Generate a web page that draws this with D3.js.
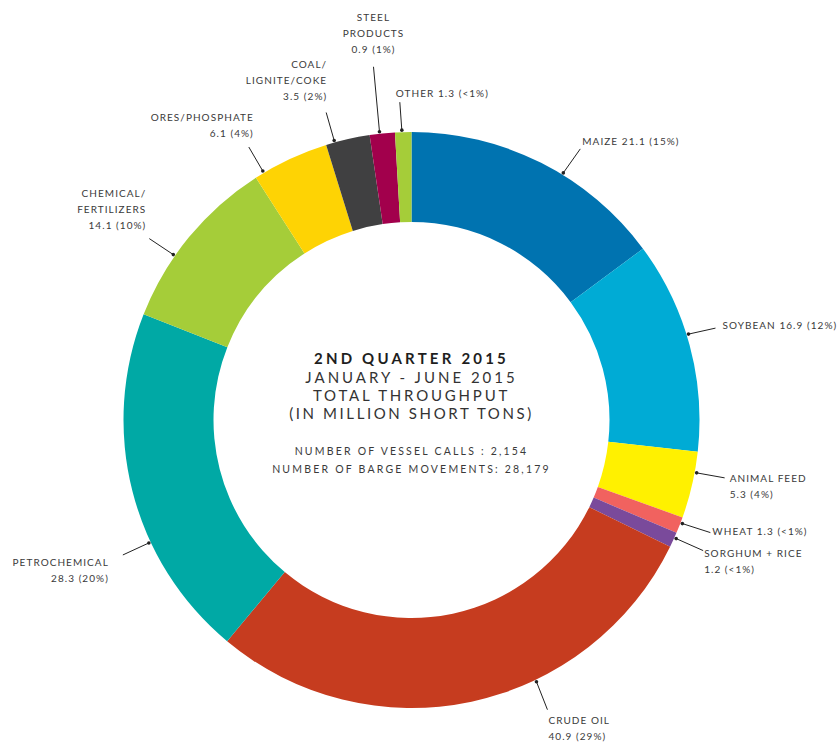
<!DOCTYPE html>
<html>
<head>
<meta charset="utf-8">
<script src="https://cdn.jsdelivr.net/npm/d3@7"></script>
<style>
  body { margin: 0; background: #fff; }
  svg text { font-family: Lato, "Open Sans", sans-serif; fill: #3a3a3a; letter-spacing: 1.05px; }
</style>
</head>
<body>
<div id="grafico-rosca"><svg width="840" height="744"></svg></div>
<script>
// dados
const categorias = ['MAIZE', 'SOYBEAN', 'ANIMAL FEED', 'WHEAT', 'SORGHUM + RICE', 'CRUDE OIL',
  'PETROCHEMICAL', 'CHEMICAL/FERTILIZERS', 'ORES/PHOSPHATE', 'COAL/LIGNITE/COKE', 'STEEL PRODUCTS', 'OTHER']
const valores = [21.1, 16.9, 5.3, 1.3, 1.2, 40.9, 28.3, 14.1, 6.1, 3.5, 0.9, 1.3]
// tamanho das fatias como aparecem no desenho (steel aparece maior que o valor)
const tamanhoFatia = [21.1, 16.9, 5.3, 1.3, 1.2, 40.9, 28.3, 14.1, 6.1, 3.5, 2.0, 1.3]
const percentuais = ['15%', '12%', '4%', '<1%', '<1%', '29%', '20%', '10%', '4%', '2%', '1%', '<1%']
const cores = ['#0073b0', '#00abd5', '#fff100', '#f1625f', '#7a4a9b', '#c63c1f',
  '#00a9a5', '#a5cd39', '#fed304', '#404041', '#a2004c', '#a5cd39']

const titulo = ['2ND QUARTER 2015', 'JANUARY - JUNE 2015', 'TOTAL THROUGHPUT', '(IN MILLION SHORT TONS)']
const rodape = ['NUMBER OF VESSEL CALLS : 2,154', 'NUMBER OF BARGE MOVEMENTS: 28,179']

/*posicao dos rotulos: t = fração ao longo da fatia, lx/ly = fim da linha, tx/ty = texto*/
const rotulos = [
  { linhas: (v, p) => [`MAIZE ${v} (${p})`], t: 0.59, lx: 17, ly: -24, anchor: 'start', tx: 2, ty: -7 },
  { linhas: (v, p) => [`SOYBEAN ${v} (${p})`], t: 0.45, lx: 27, ly: -6, anchor: 'start', tx: 7, ty: -3 },
  { linhas: (v, p) => ['ANIMAL FEED', `${v} (${p})`], t: 0.31, lx: 28, ly: 5, anchor: 'start', tx: 5, ty: 1 },
  { linhas: (v, p) => [`WHEAT ${v} (${p})`], t: 0.35, lx: 28, ly: 9, anchor: 'start', tx: 2, ty: -1 },
  { linhas: (v, p) => ['SORGHUM + RICE', `${v} (${p})`], t: 0.35, lx: 27, ly: 12, anchor: 'start', tx: 1, ty: 3 },
  { linhas: (v, p) => ['CRUDE OIL', `${v} (${p})`], t: 0.37, lx: 11, ly: 28, anchor: 'start', tx: 1, ty: 11 },
  { linhas: (v, p) => ['PETROCHEMICAL', `${v} (${p})`], t: 0.35, lx: -26, ly: 12, anchor: 'end', tx: -14, ty: 8 },
  { linhas: (v, p) => ['CHEMICAL/', 'FERTILIZERS', `${v} (${p})`], t: 0.37, lx: -24, ly: -16, anchor: 'end', tx: -3, ty: -45 },
  { linhas: (v, p) => ['ORES/PHOSPHATE', `${v} (${p})`], t: 0.12, lx: -14, ly: -24, anchor: 'end', tx: 5, ty: -30 },
  { linhas: (v, p) => ['COAL/', 'LIGNITE/COKE', `${v} (${p})`], t: 0.2, lx: -8, ly: -28, anchor: 'end', tx: 1, ty: -48 },
  { linhas: (v, p) => ['STEEL', 'PRODUCTS', `${v} (${p})`], t: 0.4, lx: -6, ly: -65, anchor: 'middle', tx: 0, ty: -49 },
  { linhas: (v, p) => [`OTHER ${v} (${p})`], t: 0.42, lx: -2, ly: -28, anchor: 'start', tx: -4, ty: -9 }
]

function exibir_grafico_rosca() {
  const dados = categorias.map((c, i) => ({
    name: c, valor: valores[i], fatia: tamanhoFatia[i], pct: percentuais[i], cor: cores[i], rot: rotulos[i]
  }))

  const svg = d3.select('#grafico-rosca svg')
  const cx = 411.5, cy = 420
  const raioExt = 288, raioInt = 198

  const chart = svg.append('g')
    .attr('transform', `translate(${cx}, ${cy})`)

  const pie = d3.pie()
    .sort(null)
    .value((d) => d.fatia)

  const arc = d3.arc()
    .innerRadius(raioInt)
    .outerRadius(raioExt)

  const fatias = pie(dados)

  chart.selectAll('.fatia')
    .data(fatias)
    .enter()
    .append('path')
    .attr('class', 'fatia')
    .attr('d', arc)
    .attr('fill', (d) => d.data.cor)

  /*linhas e rotulos*/
  const ponto = (d) => {
    const a = d.startAngle + (d.endAngle - d.startAngle) * d.data.rot.t
    const r = raioExt + 2
    return [Math.sin(a) * r, -Math.cos(a) * r]
  }

  const rot = chart.selectAll('.rotulo')
    .data(fatias)
    .enter()
    .append('g')
    .attr('class', 'rotulo')
    .attr('transform', (d) => `translate(${ponto(d)})`)

  rot.append('line')
    .attr('x1', 0)
    .attr('y1', 0)
    .attr('x2', (d) => d.data.rot.lx)
    .attr('y2', (d) => d.data.rot.ly)
    .attr('stroke', '#222')
    .attr('stroke-width', 1)

  rot.append('circle')
    .attr('r', 1.8)
    .attr('fill', '#222')

  rot.append('text')
    .attr('text-anchor', (d) => d.data.rot.anchor)
    .attr('font-size', 10)
    .attr('x', (d) => d.data.rot.lx + d.data.rot.tx)
    .attr('y', (d) => d.data.rot.ly + d.data.rot.ty)
    .each(function (d) {
      const linhas = d.data.rot.linhas(d.data.valor, d.data.pct)
      const x = d.data.rot.lx + d.data.rot.tx
      d3.select(this).selectAll('tspan')
        .data(linhas)
        .enter()
        .append('tspan')
        .attr('x', x)
        .attr('dy', (l, i) => i == 0 ? '0.35em' : 16)
        .text((l) => l)
    })

  /*texto central*/
  const espacoTitulo = ['3.2px', '3px', '2.8px', '2.6px']
  const centro = chart.append('g')
  centro.selectAll('.titulo')
    .data(titulo)
    .enter()
    .append('text')
    .attr('class', 'titulo')
    .attr('text-anchor', 'middle')
    .attr('y', (d, i) => i == 0 ? -61 : -60 + i * 18)
    .attr('dy', '0.35em')
    .attr('font-size', 15)
    .attr('font-weight', (d, i) => i == 0 ? 'bold' : 'normal')
    .style('letter-spacing', (d, i) => espacoTitulo[i])
    .style('fill', (d, i) => i == 0 ? '#1e1e1e' : '#333')
    .text((d) => d)

  centro.selectAll('.rodape')
    .data(rodape)
    .enter()
    .append('text')
    .attr('class', 'rodape')
    .attr('text-anchor', 'middle')
    .attr('y', (d, i) => 31 + i * 18)
    .attr('dy', '0.35em')
    .attr('font-size', 10.5)
    .style('letter-spacing', '2.2px')
    .text((d) => d)
}

exibir_grafico_rosca()
</script>
</body>
</html>
